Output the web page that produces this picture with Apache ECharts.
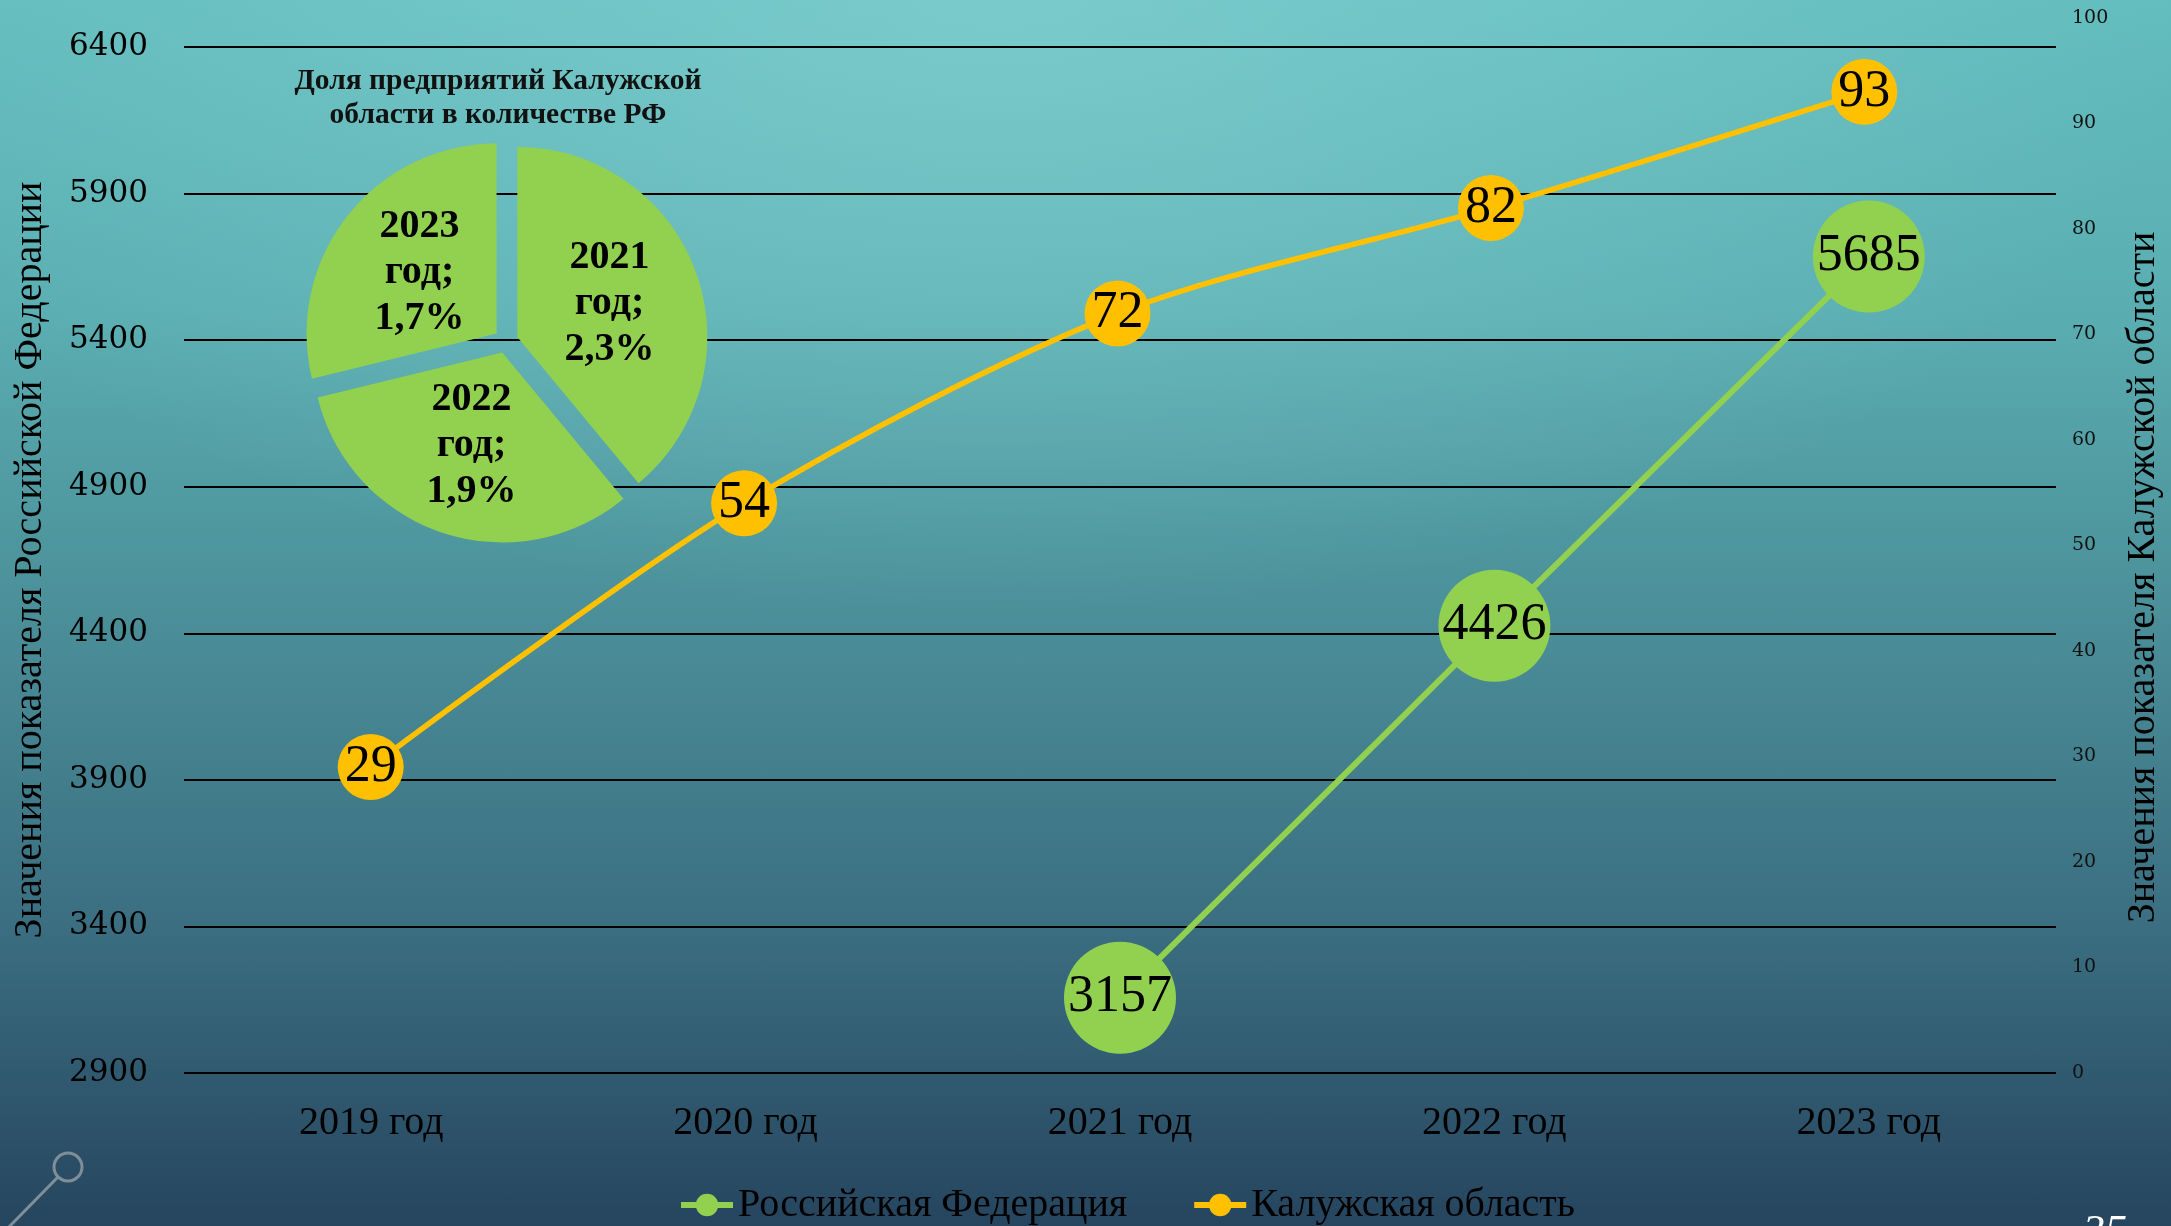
<!DOCTYPE html>
<html>
<head>
<meta charset="utf-8">
<script src="https://cdn.jsdelivr.net/npm/echarts@6/dist/echarts.min.js"></script>
<style>
  html, body {
    margin: 0;
    padding: 0;
    width: 2171px;
    height: 1226px;
    overflow: hidden;
    background:
      radial-gradient(ellipse 55% 50% at 46% 0%, rgba(140, 215, 215, 0.55), rgba(140, 215, 215, 0) 100%),
      linear-gradient(to bottom, #63bcbd 0%, #5aaeb1 25%, #4b8f99 50%, #3b6f81 75%, #26455f 100%);
  }
  #chart {
    width: 2171px;
    height: 1226px;
  }
</style>
</head>
<body>
<div id="chart"></div>
<script>
// данные
const years = ['2019 год', '2020 год', '2021 год', '2022 год', '2023 год'];
const rfValues = [null, null, 3157, 4426, 5685];
const kalugaValues = [29, 54, 72, 82, 93];
const leftTicks = [2900, 3400, 3900, 4400, 4900, 5400, 5900, 6400];
const rightTicks = [0, 10, 20, 30, 40, 50, 60, 70, 80, 90, 100];
const shareNames = ['2021 год', '2022 год', '2023 год'];
const shareValues = [2.3, 1.9, 1.7];

const serif = 'Liberation Serif';
const tickFont = 'DejaVu Serif';
const green = '#92D050';
const yellow = '#FFC000';

const gridBox = {
  left: 184,
  right: 115,
  bottom: 153
};

const pointLabel = {
  show: true,
  position: 'inside',
  color: '#000',
  fontFamily: serif,
  fontSize: 52
};

const chart = echarts.init(document.getElementById('chart'));
const option = {
  backgroundColor: 'transparent',
  animation: false,
  grid: [
    {...gridBox, top: 47},
    {...gridBox, top: 18}
  ],
  xAxis: [
    {
      type: 'category',
      gridIndex: 0,
      data: years,
      axisLine: {show: false},
      axisTick: {show: false},
      axisLabel: {
        color: '#000',
        fontFamily: serif,
        fontSize: 40,
        margin: 30
      }
    },
    {
      type: 'category',
      gridIndex: 1,
      data: years,
      show: false
    }
  ],
  yAxis: [
    {
      // шкала РФ: подписи только на значениях leftTicks
      type: 'value',
      gridIndex: 0,
      position: 'left',
      min: leftTicks[0],
      max: leftTicks[leftTicks.length - 1],
      interval: 100,
      axisLine: {show: false},
      axisTick: {show: false},
      splitLine: {show: false},
      axisLabel: {
        color: '#000',
        fontFamily: tickFont,
        fontSize: 31,
        margin: 36,
        formatter: v => leftTicks.includes(v) ? String(v) : ''
      },
      name: 'Значения показателя Российской Федерации',
      nameLocation: 'middle',
      nameRotate: 90,
      nameGap: 134,
      nameTextStyle: {
        color: '#000',
        fontFamily: serif,
        fontSize: 40
      }
    },
    {
      type: 'value',
      gridIndex: 1,
      position: 'right',
      min: rightTicks[0],
      max: rightTicks[rightTicks.length - 1],
      interval: 10,
      axisLine: {show: false},
      axisTick: {show: false},
      splitLine: {show: false},
      axisLabel: {
        color: '#111',
        fontFamily: tickFont,
        fontSize: 19,
        margin: 21
      },
      name: 'Значения показателя Калужской области',
      nameLocation: 'middle',
      nameRotate: 90,
      nameGap: 72,
      nameTextStyle: {
        color: '#000',
        fontFamily: serif,
        fontSize: 40,
        padding: [0, 64, 0, 0]
      }
    },
    {
      // линии сетки по делениям левой шкалы
      type: 'value',
      gridIndex: 0,
      min: 0,
      max: leftTicks.length - 1,
      interval: 1,
      axisLine: {show: false},
      axisTick: {show: false},
      axisLabel: {show: false},
      splitLine: {
        lineStyle: {color: '#000', width: 2}
      }
    }
  ],
  legend: {
    data: ['Российская Федерация', 'Калужская область'],
    left: 673,
    top: 1180,
    itemWidth: 52,
    itemHeight: 28,
    itemGap: 64,
    lineStyle: {width: 6},
    textStyle: {
      color: '#000',
      fontFamily: serif,
      fontSize: 40
    }
  },
  graphic: [
    {
      type: 'text',
      x: 498,
      y: 64,
      style: {
        text: 'Доля предприятий Калужской\nобласти в количестве РФ',
        textAlign: 'center',
        fill: '#111',
        fontFamily: serif,
        fontWeight: 'bold',
        fontSize: 29.5,
        lineHeight: 34
      }
    },
    {
      type: 'circle',
      shape: {cx: 68, cy: 1167, r: 14},
      style: {fill: 'none', stroke: '#7f8f99', lineWidth: 3}
    },
    {
      type: 'line',
      shape: {x1: 58, y1: 1177, x2: 6, y2: 1230},
      style: {stroke: '#7f8f99', lineWidth: 3}
    },
    {
      type: 'text',
      x: 2083,
      y: 1211,
      style: {
        text: '35',
        fill: '#fff',
        fontFamily: serif,
        fontStyle: 'italic',
        fontSize: 44
      }
    }
  ],
  series: [
    {
      name: 'Российская Федерация',
      type: 'line',
      xAxisIndex: 0,
      yAxisIndex: 0,
      data: rfValues,
      color: green,
      symbol: 'circle',
      symbolSize: 112,
      lineStyle: {width: 6},
      label: pointLabel,
      z: 3
    },
    {
      name: 'Калужская область',
      type: 'line',
      xAxisIndex: 1,
      yAxisIndex: 1,
      data: kalugaValues,
      color: yellow,
      smooth: 0.3,
      symbol: 'circle',
      symbolSize: 66,
      lineStyle: {width: 5.5},
      label: pointLabel,
      z: 4
    },
    {
      name: 'Доля',
      type: 'pie',
      center: [506, 341],
      radius: 190,
      startAngle: 90,
      clockwise: true,
      selectedMode: 'multiple',
      selectedOffset: 12,
      color: [green],
      itemStyle: {color: green, borderWidth: 0},
      select: {itemStyle: {color: green}},
      label: {
        show: true,
        position: 'inside',
        color: '#000',
        fontFamily: serif,
        fontWeight: 'bold',
        fontSize: 40,
        lineHeight: 46,
        formatter: p => p.name.replace(' ', '\n') + ';\n' + String(p.value).replace('.', ',') + '%'
      },
      labelLine: {show: false},
      data: shareNames.map((n, i) => ({name: n, value: shareValues[i], selected: true})),
      z: 5
    }
  ]
};
chart.setOption(option);
</script>
</body>
</html>
